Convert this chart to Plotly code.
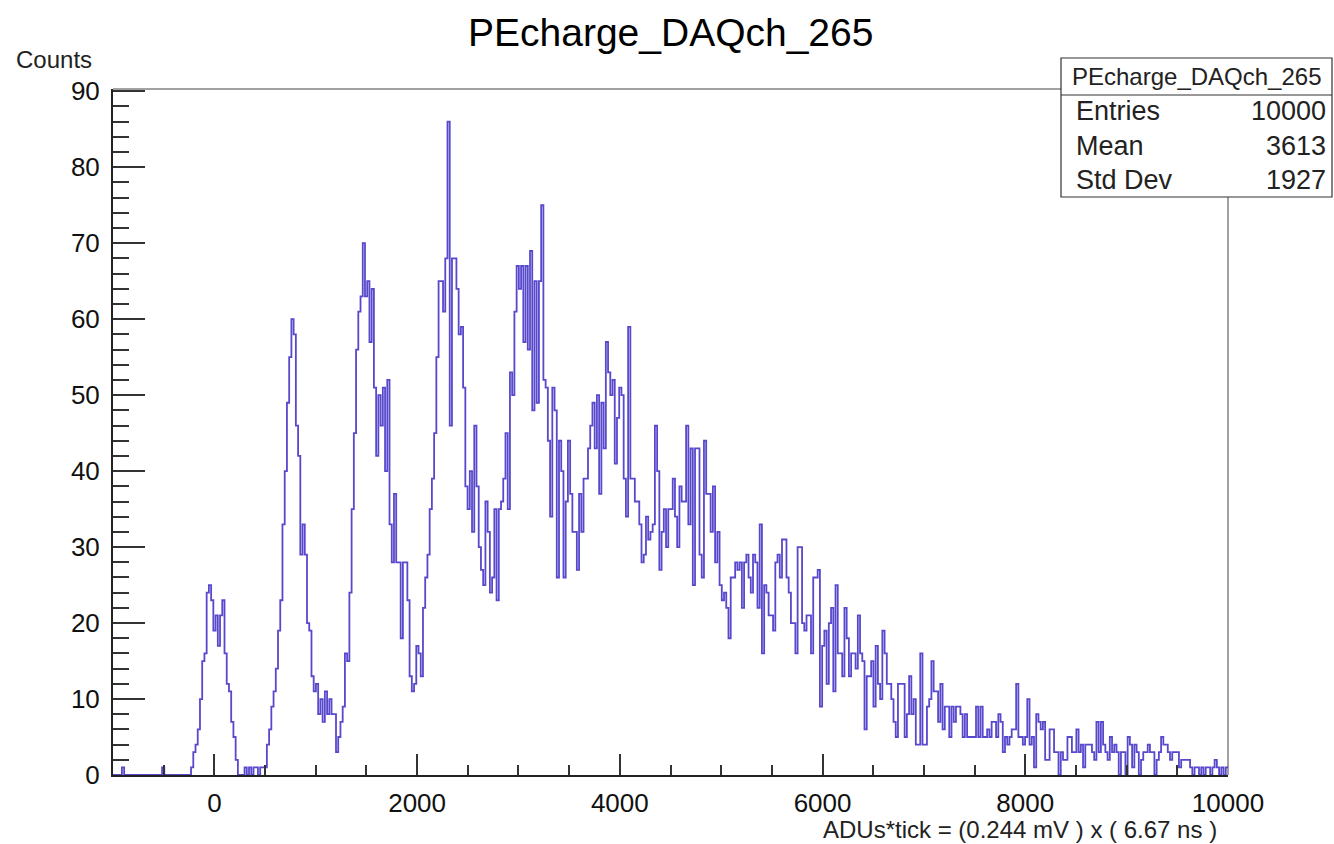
import numpy as np
import plotly.graph_objects as go

# ---------------- data ----------------
x_min, x_max, n_bins = -1000, 10000, 500

# bin contents, split by region (bin index ranges in comments)
counts_neg = [0, 0, 0, 0, 1, 0, 0, 0, 0, 0,
              0, 0, 0, 0, 0, 0, 0, 0, 0, 0,
              0, 0, 1, 0, 0, 0, 0, 0, 0, 0,
              0, 0, 0, 0]                                   # 0-33
counts_0pe = [0, 1, 3, 4, 6, 10, 15, 16, 24, 25, 23, 19, 21, 17, 21, 23,
              16, 12, 11, 7, 5, 2, 0, 0,
              0, 1, 0, 1, 0, 1, 1, 0, 1, 1, 1]              # 34-68
counts_1pe = [4, 6, 9, 11, 14, 19, 23, 33, 40, 49, 55, 60, 58, 46, 42,
              29, 33, 29, 20, 19, 13, 11, 12, 8, 10, 7, 11, 8, 10, 8,
              8, 3, 5, 7, 9, 16, 15, 24, 35, 45, 56, 61, 63, 70, 63,
              65, 57, 64, 51, 42, 50, 46, 51, 40, 52, 33, 28, 37, 28, 28,
              18, 28]                                       # 69-130
counts_2pe = [28, 23, 13, 11, 12, 17, 16, 13, 22, 26, 29, 35, 39, 45, 55,
              65, 65, 61, 68, 86, 46, 68, 68, 64, 58, 59, 51, 38, 35, 40,
              32, 46, 38, 30, 27, 25, 36, 32, 24, 26, 35, 23, 35, 36, 39,
              45, 35, 53, 50, 61, 67, 64, 67, 57, 67, 56, 69, 48, 65, 49,
              65, 75, 52, 51, 44, 34, 51]                   # 131-197
counts_mid = [48, 26, 44, 40, 26, 36, 44, 37, 32, 32, 27, 37, 32, 39, 39,
              43, 46, 49, 43, 50, 37, 49, 43, 57, 53, 50, 52, 41, 47, 51,
              50, 39, 34, 59, 39, 39, 36, 36, 33, 28, 29, 34, 31, 32, 33,
              46, 40, 27, 32, 35, 30, 35, 35, 39, 34, 30, 38, 36, 36, 46,
              33, 43, 25, 43]                               # 198-261
counts_tail1 = [43, 29, 26, 44, 37, 37, 32, 38, 28, 32, 25, 23, 24, 22, 18,
                26, 26, 28, 27, 28, 22, 28, 29, 26, 24, 29, 28, 22, 33, 16,
                25, 24, 21, 21, 19, 28, 29, 26, 31, 31, 26, 24, 20, 20, 16,
                30, 30, 20, 19, 21, 21, 16, 26, 26, 27, 9, 17, 19]   # 262-319
counts_tail2 = [12, 20, 22, 11, 25, 16, 16, 13, 22, 18, 13, 16, 16, 14, 21,
                16, 15, 6, 13, 13, 15, 9, 17, 12, 10, 19, 16, 12, 12, 10,
                7, 5, 12, 12, 12, 5, 8, 13, 8, 10, 4, 4, 16, 4, 4,
                9, 10, 15, 11, 11, 7, 12, 6, 9, 9, 5, 9, 7, 9, 9,
                8, 5, 8, 5, 5, 5, 5, 9, 5]                  # 320-388
counts_tail3 = [9, 5, 5, 6, 5, 7, 7, 5, 8, 7, 3, 5, 4, 5, 6,
                6, 12, 5, 5, 4, 5, 10, 4, 5, 1, 8, 7, 6, 7, 2,
                2, 6, 6, 3, 3, 0, 3, 2, 2, 5, 5, 3, 3, 6, 3,
                4, 1, 4, 4, 4, 3, 2, 7, 3, 7, 4, 3, 2]      # 389-446
counts_tail4 = [5, 3, 4, 3, 0, 3, 3, 0, 5, 4, 1, 4, 3, 0, 2, 3, 3, 4,
                3, 3, 0, 2, 3, 5, 4, 4, 3, 2, 3, 3, 3, 1, 2, 2, 2, 2,
                1, 0, 1, 1, 0, 1, 0, 1, 1, 0, 1, 2, 1, 0, 1, 0, 1]  # 447-499

hist_name = "PEcharge_DAQch_265"
x_title = "ADUs*tick = (0.244 mV ) x ( 6.67 ns )"
y_title = "Counts"
stats_labels = ["Entries", "Mean", "Std Dev"]
stats_values = ["10000", "3613", "1927"]
x_tick_vals = [0, 2000, 4000, 6000, 8000, 10000]
x_tick_text = ["0", "2000", "4000", "6000", "8000", "10000"]
y_tick_vals = [0, 10, 20, 30, 40, 50, 60, 70, 80, 90]
y_tick_text = ["0", "10", "20", "30", "40", "50", "60", "70", "80", "90"]

counts = (counts_neg + counts_0pe + counts_1pe + counts_2pe + counts_mid
          + counts_tail1 + counts_tail2 + counts_tail3 + counts_tail4)
assert len(counts) == n_bins, len(counts)

edges = np.linspace(x_min, x_max, n_bins + 1)
y_step = counts + [counts[-1]]

# ---------------- layout geometry ----------------
W, H = 1334, 844
L, R, T, B = 113, 106, 89, 69
PW, PH = W - L - R, H - T - B
FONT = "Liberation Sans, Arial, Helvetica, sans-serif"


def fx(p):
    return (p - L) / PW


def fy(p):
    return (H - B - p) / PH


fig = go.Figure()
fig.add_trace(go.Scatter(
    x=edges, y=y_step, mode="lines", line_shape="hv",
    line=dict(color="#5848cc", width=1.8), hoverinfo="skip", showlegend=False))

fig.update_layout(
    width=W, height=H,
    margin=dict(l=L, r=R, t=T, b=B),
    paper_bgcolor="white", plot_bgcolor="white",
    font=dict(family=FONT, color="black"),
    showlegend=False,
)
fig.update_xaxes(
    range=[x_min, x_max], tickvals=x_tick_vals, ticktext=x_tick_text,
    ticks="inside", ticklen=21, tickwidth=1.5, tickcolor="#333",
    minor=dict(dtick=500, tick0=0, ticks="inside", ticklen=10,
               tickwidth=1.5, tickcolor="#333"),
    showline=True, linewidth=2, linecolor="#222",
    showgrid=False, zeroline=False,
    tickfont=dict(size=26, family=FONT, color="#111"),
    ticklabelstandoff=4,
)
fig.update_yaxes(
    range=[0, 90.3], tickvals=y_tick_vals, ticktext=y_tick_text,
    ticks="inside", ticklen=32, tickwidth=1.5, tickcolor="#333",
    minor=dict(dtick=2, tick0=0, ticks="inside", ticklen=16,
               tickwidth=1.5, tickcolor="#333"),
    showline=True, linewidth=2, linecolor="#222",
    showgrid=False, zeroline=False,
    tickfont=dict(size=26, family=FONT, color="#111"),
    ticklabelstandoff=6,
)

shapes = [
    # top and right frame
    dict(type="line", xref="paper", yref="paper", x0=0, x1=1, y0=1, y1=1,
         line=dict(color="#444", width=1)),
    dict(type="line", xref="paper", yref="paper", x0=1, x1=1, y0=0, y1=1,
         line=dict(color="#444", width=1)),
    # stats box
    dict(type="rect", xref="paper", yref="paper",
         x0=fx(1061), x1=fx(1332), y0=fy(197), y1=fy(58),
         fillcolor="white", line=dict(color="#333", width=1.2)),
    dict(type="line", xref="paper", yref="paper",
         x0=fx(1061), x1=fx(1332), y0=fy(95), y1=fy(95),
         line=dict(color="#333", width=1.2)),
]
fig.update_layout(shapes=shapes)

ann = []
ann.append(dict(text=hist_name, x=fx(670.5), y=fy(32), xref="paper", yref="paper",
                xanchor="center", yanchor="middle", showarrow=False,
                font=dict(size=39, family=FONT, color="black")))
ann.append(dict(text=y_title, x=fx(14), y=fy(60), xref="paper", yref="paper",
                xanchor="left", yanchor="middle", showarrow=False,
                font=dict(size=24, family=FONT, color="#222")))
ann.append(dict(text=x_title, x=fx(1219), y=fy(829), xref="paper", yref="paper",
                xanchor="right", yanchor="middle", showarrow=False,
                font=dict(size=24, family=FONT, color="#222")))
ann.append(dict(text=hist_name, x=fx(1197), y=fy(76), xref="paper", yref="paper",
                xanchor="center", yanchor="middle", showarrow=False,
                font=dict(size=24, family=FONT, color="#222")))
row_y = [111, 146, 180]
for lab, val, yy in zip(stats_labels, stats_values, row_y):
    ann.append(dict(text=lab, x=fx(1074), y=fy(yy), xref="paper", yref="paper",
                    xanchor="left", yanchor="middle", showarrow=False,
                    font=dict(size=27, family=FONT, color="#222")))
    ann.append(dict(text=val, x=fx(1328), y=fy(yy), xref="paper", yref="paper",
                    xanchor="right", yanchor="middle", showarrow=False,
                    font=dict(size=27, family=FONT, color="#222")))
fig.update_layout(annotations=ann)

fig.write_html(
    "out.html",
    config={"displayModeBar": False},
    post_script="document.body.style.margin='0px';document.body.style.padding='0px';document.body.style.overflow='hidden';",
)
